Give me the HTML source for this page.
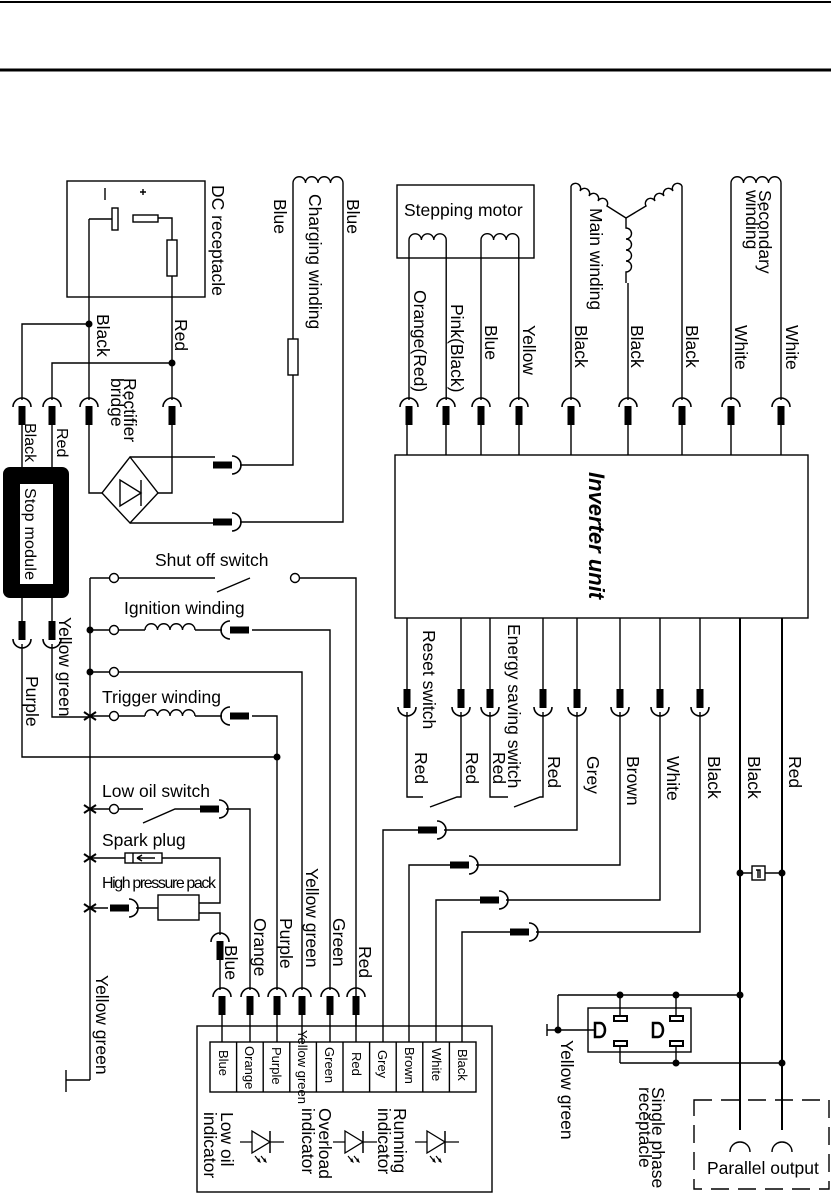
<!DOCTYPE html>
<html><head><meta charset="utf-8"><style>
html,body{margin:0;padding:0;background:#fff;}
svg{display:block;font-family:"Liberation Sans",sans-serif;}
text{fill:#000;}
</style></head><body>
<svg width="831" height="1193" viewBox="0 0 831 1193" xmlns="http://www.w3.org/2000/svg">
<defs>
<g id="cd"><path d="M-9,5 A9,9 0 0 1 9,5" fill="none" stroke="#000" stroke-width="1.6"/><rect x="-3.5" y="4" width="7" height="19" fill="#000"/></g>
<g id="cu"><path d="M-9,-5 A9,9 0 0 0 9,-5" fill="none" stroke="#000" stroke-width="1.6"/><rect x="-3.5" y="-23" width="7" height="19" fill="#000"/></g>
<g id="cr"><path d="M-4,-9 A9,9 0 0 1 -4,9" fill="none" stroke="#000" stroke-width="1.6"/><rect x="-23" y="-3.5" width="19" height="7" fill="#000"/></g>
<g id="cl"><path d="M4,-9 A9,9 0 0 0 4,9" fill="none" stroke="#000" stroke-width="1.6"/><rect x="4" y="-3.5" width="19" height="7" fill="#000"/></g>
<g id="led"><line x1="-22" y1="0" x2="22" y2="0" stroke="#000" stroke-width="1.3"/><path d="M-10,-11 L-10,11 L8,0 Z" fill="#fff" stroke="#000" stroke-width="1.3"/><line x1="8" y1="-11" x2="8" y2="11" stroke="#000" stroke-width="1.5"/><path d="M-7,14 l4,5 M-1,14 l4,5" stroke="#000" stroke-width="1.2"/><path d="M-4,19 l2,1 l-1,-3 Z M2,19 l2,1 l-1,-3 Z" fill="#000" stroke="#000"/></g>
<circle id="dot" r="3.5" fill="#000"/>
<circle id="term" r="4.5" fill="#fff" stroke="#000" stroke-width="1.4"/>
<g id="jump"><path d="M-6,-4 L0,0 L-6,4 M6,-4 L0,0 L6,4" stroke="#000" stroke-width="2" fill="none"/></g>
</defs>

<line x1="0" y1="2" x2="831" y2="2" stroke="#000" stroke-width="2"/>
<line x1="0" y1="70" x2="831" y2="70" stroke="#000" stroke-width="3"/>

<g fill="none" stroke="#000" stroke-width="1.4">
<rect x="67" y="181" width="138" height="116"/>
<rect x="112" y="208" width="6" height="22" fill="#fff"/>
<line x1="105" y1="188" x2="105" y2="200"/>
<path d="M140,192 h6 M143,189 v6"/>
<rect x="133" y="215" width="25" height="7" fill="#fff"/>
<path d="M89,219 H112 M89,219 V400"/>
<path d="M158,218 H172 V400"/>
<rect x="167" y="240" width="10" height="36" fill="#fff"/>
<path d="M89,324 H22 V400 M172,363 H52 V400"/>
<path d="M89,425 V493 H102 M172,425 V493 H158"/>
<path d="M130,457 L158,493 L130,523 L102,493 Z"/>
<path d="M120,480 L120,506 L141,493 Z M141,480 V506"/>
<path d="M130,457 H215 M130,523 H215"/>
<path d="M240,465 H293 V183 M240,522 H343 V183"/>
<rect x="288" y="339" width="10" height="36" fill="#fff"/>
<path d="M293,183 a6.25,6.25 0 0 1 12.5,0 a6.25,6.25 0 0 1 12.5,0 a6.25,6.25 0 0 1 12.5,0 a6.25,6.25 0 0 1 12.5,0"/>
<path d="M22,425 V468 M52,425 V468 M22,597 V622 M52,597 V622"/>
<path d="M22,644 V757 H277 M52,644 V717 H90"/>
<path d="M90,578 V1080 M66,1080 H90 M66,1070 V1092"/>
<path d="M90,578 H110 M119,578 H215 M217,592 L250,578 M299,578 H356 V1026"/>
<path d="M90,630 H110 M119,630 H145 M195,630 H222 M252,630 H330 V990"/>
<path d="M145,630 a6.25,6.25 0 0 1 12.5,0 a6.25,6.25 0 0 1 12.5,0 a6.25,6.25 0 0 1 12.5,0 a6.25,6.25 0 0 1 12.5,0"/>
<path d="M90,672 H110 M119,672 H302 V990"/>
<path d="M90,716 H110 M119,716 H145 M195,716 H222 M252,716 H277 V990"/>
<path d="M145,716 a6.25,6.25 0 0 1 12.5,0 a6.25,6.25 0 0 1 12.5,0 a6.25,6.25 0 0 1 12.5,0 a6.25,6.25 0 0 1 12.5,0"/>
<path d="M90,809 H110 M119,809 H143 M143,823 L175,809 H200 M226,809 H250 V990"/>
<path d="M90,858 H125 M162,858 H220 V903 H199 M199,913 H220 V935"/>
<rect x="125" y="853" width="37" height="10" fill="#fff"/>
<path d="M133,853 V863 M137,858 H155 M137,858 l5,-3 M137,858 l5,3"/>
<path d="M90,908 H108 M136,908 H158"/>
<rect x="158" y="895" width="41" height="25" fill="#fff"/>
<path d="M220,960 V990 M222,1015 V1042 M250,1015 V1042 M277,1015 V1042 M302,1015 V1042 M330,1015 V1042 M356,1015 V1042"/>
<rect x="197" y="1026" width="295" height="166"/>
<rect x="210" y="1042" width="266" height="50" fill="#fff"/>
<path d="M236.6,1042 v50 M263.2,1042 v50 M289.8,1042 v50 M316.4,1042 v50 M343,1042 v50 M369.6,1042 v50 M396.2,1042 v50 M422.8,1042 v50 M449.4,1042 v50"/>
<path d="M383,1042 V830 H418 M444,830 H577 V712"/>
<path d="M409,1042 V865 H450 M476,865 H620 V712"/>
<path d="M436,1042 V900 H480 M506,900 H660 V712"/>
<path d="M462,1042 V932 H510 M536,932 H700 V712"/>
<rect x="395" y="455" width="413" height="163"/>
<path d="M407,425 V455 M446,425 V455 M481,425 V455 M519,425 V455 M571,425 V455 M628,425 V455 M682,425 V455 M731,425 V455 M781,425 V455"/>
<rect x="397" y="185" width="137" height="73"/>
<path d="M409,400 V240 a6.2,6.2 0 0 1 12.4,0 a6.2,6.2 0 0 1 12.4,0 a6.2,6.2 0 0 1 12.4,0 V400"/>
<path d="M481,400 V240 a6.3,6.3 0 0 1 12.6,0 a6.3,6.3 0 0 1 12.6,0 a6.3,6.3 0 0 1 12.6,0 V400"/>
<path d="M571,400 V186 M682,400 V186 M628,400 V283"/>
<path d="M571,186 a5,5 0 0 1 9,5 a5,5 0 0 1 9,5 a5,5 0 0 1 9,5 a5,5 0 0 1 9,5 L626,218"/>
<path d="M682,186 a5,5 0 0 0 -9,5 a5,5 0 0 0 -9,5 a5,5 0 0 0 -9,5 a5,5 0 0 0 -9,5 L626,218"/>
<path d="M626,218 V228 a5.5,5.5 0 0 1 0,11 a5.5,5.5 0 0 1 0,11 a5.5,5.5 0 0 1 0,11 a5.5,5.5 0 0 1 0,11 V283"/>
<path d="M731,400 V183 a6.25,6.25 0 0 1 12.5,0 a6.25,6.25 0 0 1 12.5,0 a6.25,6.25 0 0 1 12.5,0 a6.25,6.25 0 0 1 12.5,0 V400"/>
<path d="M407,618 V690 M461,618 V690 M490,618 V690 M543,618 V690 M577,618 V690 M620,618 V690 M660,618 V690 M700,618 V690"/>
<path d="M407,712 V797 H423 M430,807 L457,797 H461 V712"/>
<path d="M490,712 V797 H508 M514,807 L540,797 H543 V712"/>
<path d="M740,618 V1130 M782,618 V1130" stroke-width="2"/>
<path d="M740,873 H752 M765,873 H782"/>
<rect x="752" y="866" width="13" height="14" fill="#fff"/>
<path d="M756,870 h4 v8 M758,870 v8"/>
<path d="M558,995 H740 M558,995 V1030 H596 M620,1063 H782 M620,995 V1016 M676,995 V1016 M620,1046 V1063 M676,1046 V1063"/>
<path d="M547,1024 V1036 M547,1030 H558"/>
<rect x="588" y="1008" width="103" height="44"/>
<rect x="614" y="1016" width="13" height="5" stroke-width="2"/>
<rect x="614" y="1041" width="13" height="5" stroke-width="2"/>
<rect x="670" y="1016" width="13" height="5" stroke-width="2"/>
<rect x="670" y="1041" width="13" height="5" stroke-width="2"/>
<path d="M595,1023 V1037 H600 a5,7 0 0 0 0,-14 Z M653,1023 V1037 H658 a5,7 0 0 0 0,-14 Z" stroke-width="2.5"/>
<rect x="694" y="1100" width="135" height="89" stroke-dasharray="18,9"/>
<path d="M730,1152 A10,10 0 0 1 750,1152 M772,1152 A10,10 0 0 1 792,1152"/>
</g>

<rect x="3" y="467" width="66" height="131" rx="7" fill="#000"/>
<rect x="20" y="484" width="33" height="100" fill="#fff"/>

<use href="#dot" x="89" y="324"/><use href="#dot" x="172" y="363"/>
<use href="#dot" x="90" y="630"/><use href="#dot" x="90" y="672"/><use href="#dot" x="277" y="757"/>
<use href="#dot" x="740" y="873"/><use href="#dot" x="782" y="873"/>
<use href="#dot" x="620" y="995"/><use href="#dot" x="676" y="995"/><use href="#dot" x="740" y="995"/>
<use href="#dot" x="558" y="1030"/><use href="#dot" x="676" y="1063"/><use href="#dot" x="782" y="1063"/>
<use href="#jump" x="90" y="716"/><use href="#jump" x="90" y="809"/><use href="#jump" x="90" y="858"/><use href="#jump" x="90" y="908"/>
<use href="#term" x="114" y="578"/><use href="#term" x="295" y="578"/>
<use href="#term" x="114" y="630"/><use href="#term" x="114" y="672"/>
<use href="#term" x="114" y="716"/><use href="#term" x="114" y="809"/>

<use href="#cd" x="22" y="402"/><use href="#cd" x="52" y="402"/><use href="#cd" x="89" y="402"/><use href="#cd" x="172" y="402"/>
<use href="#cr" x="236" y="465"/><use href="#cr" x="236" y="522"/>
<use href="#cu" x="22" y="644"/><use href="#cu" x="52" y="644"/>
<use href="#cl" x="226" y="630"/><use href="#cl" x="226" y="716"/>
<use href="#cr" x="223" y="809"/><use href="#cr" x="133" y="908"/>
<use href="#cd" x="220" y="937"/>
<use href="#cd" x="222" y="992"/><use href="#cd" x="250" y="992"/><use href="#cd" x="277" y="992"/><use href="#cd" x="302" y="992"/><use href="#cd" x="330" y="992"/><use href="#cd" x="356" y="992"/>
<use href="#cd" x="409" y="402"/><use href="#cd" x="446" y="402"/><use href="#cd" x="481" y="402"/><use href="#cd" x="519" y="402"/><use href="#cd" x="571" y="402"/><use href="#cd" x="628" y="402"/><use href="#cd" x="682" y="402"/><use href="#cd" x="731" y="402"/><use href="#cd" x="781" y="402"/>
<use href="#cu" x="407" y="712"/><use href="#cu" x="461" y="712"/><use href="#cu" x="490" y="712"/><use href="#cu" x="543" y="712"/><use href="#cu" x="577" y="712"/><use href="#cu" x="620" y="712"/><use href="#cu" x="660" y="712"/><use href="#cu" x="700" y="712"/>
<use href="#cr" x="441" y="830"/><use href="#cr" x="473" y="865"/><use href="#cr" x="503" y="900"/><use href="#cr" x="533" y="932"/>

<use href="#led" x="262" y="1142"/><use href="#led" x="355" y="1142"/><use href="#led" x="437" y="1142"/>

<g font-size="17.5">
<text x="155" y="566">Shut off switch</text>
<text x="124" y="614">Ignition winding</text>
<text x="102" y="703">Trigger winding</text>
<text x="102" y="797">Low oil switch</text>
<text x="102" y="846">Spark plug</text>
<text x="102" y="888" font-size="16" textLength="114">High pressure pack</text>
<text x="404" y="216">Stepping motor</text>
<text x="707" y="1174">Parallel output</text>
</g>

<g font-size="17.5">
<text transform="translate(212,185) rotate(90)">DC receptacle</text>
<text transform="translate(274,199) rotate(90)">Blue</text>
<text transform="translate(309,194) rotate(90)">Charging winding</text>
<text transform="translate(347,199) rotate(90)">Blue</text>
<text transform="translate(97,314) rotate(90)">Black</text>
<text transform="translate(175,319) rotate(90)">Red</text>
<text transform="translate(124,378) rotate(90)">Rectifier</text>
<text transform="translate(111,378) rotate(90)">bridge</text>
<text transform="translate(25,423) rotate(90)" font-size="16">Black</text>
<text transform="translate(57,428) rotate(90)" font-size="16">Red</text>
<text transform="translate(25,488) rotate(90)" font-size="16" textLength="92">Stop module</text>
<text transform="translate(59,617) rotate(90)">Yellow green</text>
<text transform="translate(26,676) rotate(90)">Purple</text>
<text transform="translate(96,975) rotate(90)">Yellow green</text>
<text transform="translate(225,945) rotate(90)">Blue</text>
<text transform="translate(254,918) rotate(90)">Orange</text>
<text transform="translate(280,918) rotate(90)">Purple</text>
<text transform="translate(306,868) rotate(90)">Yellow green</text>
<text transform="translate(333,918) rotate(90)">Green</text>
<text transform="translate(359,946) rotate(90)">Red</text>
<text transform="translate(414,290) rotate(90)">Orange(Red)</text>
<text transform="translate(451,304) rotate(90)">Pink(Black)</text>
<text transform="translate(485,325) rotate(90)">Blue</text>
<text transform="translate(523,325) rotate(90)">Yellow</text>
<text transform="translate(575,325) rotate(90)">Black</text>
<text transform="translate(631,325) rotate(90)">Black</text>
<text transform="translate(686,325) rotate(90)">Black</text>
<text transform="translate(735,325) rotate(90)">White</text>
<text transform="translate(786,325) rotate(90)">White</text>
<text transform="translate(590,208) rotate(90)">Main winding</text>
<text transform="translate(759,190) rotate(90)">Secondary</text>
<text transform="translate(746,190) rotate(90)">winding</text>
<text transform="translate(423,630) rotate(90)">Reset switch</text>
<text transform="translate(508,624) rotate(90)">Energy saving switch</text>
<text transform="translate(415,752) rotate(90)">Red</text>
<text transform="translate(466,752) rotate(90)">Red</text>
<text transform="translate(493,752) rotate(90)">Red</text>
<text transform="translate(548,756) rotate(90)">Red</text>
<text transform="translate(587,756) rotate(90)">Grey</text>
<text transform="translate(627,756) rotate(90)">Brown</text>
<text transform="translate(667,756) rotate(90)">White</text>
<text transform="translate(708,756) rotate(90)">Black</text>
<text transform="translate(748,756) rotate(90)">Black</text>
<text transform="translate(789,756) rotate(90)">Red</text>
<text transform="translate(561,1040) rotate(90)">Yellow green</text>
<text transform="translate(652,1087) rotate(90)">Single phase</text>
<text transform="translate(639,1087) rotate(90)">receptacle</text>
<text transform="translate(221,1112) rotate(90)">Low oil</text>
<text transform="translate(204,1112) rotate(90)">indicator</text>
<text transform="translate(319,1108) rotate(90)">Overload</text>
<text transform="translate(302,1108) rotate(90)">indicator</text>
<text transform="translate(394,1108) rotate(90)">Running</text>
<text transform="translate(378,1108) rotate(90)">indicator</text>
</g>
<text transform="translate(589,472) rotate(90)" font-size="22" font-weight="bold" font-style="italic">Inverter unit</text>

<g font-size="13">
<text transform="translate(219,1050) rotate(90)">Blue</text>
<text transform="translate(245,1046) rotate(90)">Orange</text>
<text transform="translate(272,1047) rotate(90)">Purple</text>
<text transform="translate(298,1030) rotate(90)">Yellow green</text>
<text transform="translate(325,1047) rotate(90)">Green</text>
<text transform="translate(352,1052) rotate(90)">Red</text>
<text transform="translate(378,1050) rotate(90)">Grey</text>
<text transform="translate(405,1047) rotate(90)">Brown</text>
<text transform="translate(432,1048) rotate(90)">White</text>
<text transform="translate(458,1049) rotate(90)">Black</text>
</g>
</svg>
</body></html>
